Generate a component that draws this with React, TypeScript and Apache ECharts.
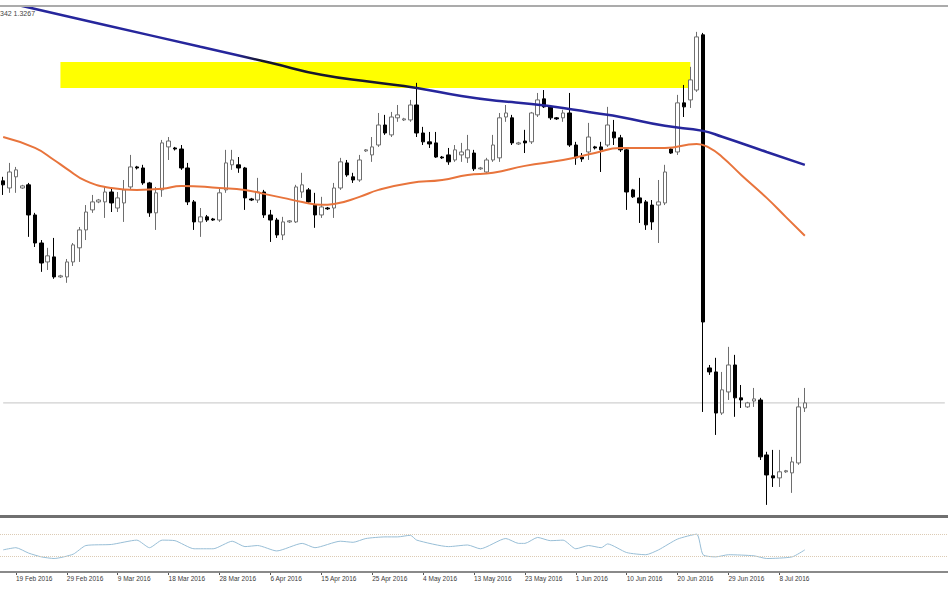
import React, { useEffect, useRef } from "react";
import * as echarts from "echarts";

const dates = [
  "17 Feb 2016","18 Feb 2016","19 Feb 2016","21 Feb 2016","22 Feb 2016","23 Feb 2016","24 Feb 2016","25 Feb 2016","26 Feb 2016","28 Feb 2016","29 Feb 2016",
  "1 Mar 2016","2 Mar 2016","3 Mar 2016","4 Mar 2016","6 Mar 2016","7 Mar 2016","8 Mar 2016","9 Mar 2016","10 Mar 2016","11 Mar 2016","13 Mar 2016","14 Mar 2016","15 Mar 2016","16 Mar 2016","17 Mar 2016","18 Mar 2016","20 Mar 2016","21 Mar 2016","22 Mar 2016","23 Mar 2016","24 Mar 2016","25 Mar 2016","27 Mar 2016","28 Mar 2016","29 Mar 2016","30 Mar 2016","31 Mar 2016",
  "1 Apr 2016","3 Apr 2016","4 Apr 2016","5 Apr 2016","6 Apr 2016","7 Apr 2016","8 Apr 2016","10 Apr 2016","11 Apr 2016","12 Apr 2016","13 Apr 2016","14 Apr 2016","15 Apr 2016","17 Apr 2016","18 Apr 2016","19 Apr 2016","20 Apr 2016","21 Apr 2016","22 Apr 2016","24 Apr 2016","25 Apr 2016","26 Apr 2016","27 Apr 2016","28 Apr 2016","29 Apr 2016",
  "1 May 2016","2 May 2016","3 May 2016","4 May 2016","5 May 2016","6 May 2016","8 May 2016","9 May 2016","10 May 2016","11 May 2016","12 May 2016","13 May 2016","15 May 2016","16 May 2016","17 May 2016","18 May 2016","19 May 2016","20 May 2016","22 May 2016","23 May 2016","24 May 2016","25 May 2016","26 May 2016","27 May 2016","29 May 2016","30 May 2016","31 May 2016",
  "1 Jun 2016","2 Jun 2016","3 Jun 2016","5 Jun 2016","6 Jun 2016","7 Jun 2016","8 Jun 2016","9 Jun 2016","10 Jun 2016","12 Jun 2016","13 Jun 2016","14 Jun 2016","15 Jun 2016","16 Jun 2016","17 Jun 2016","19 Jun 2016","20 Jun 2016","21 Jun 2016","22 Jun 2016","23 Jun 2016","24 Jun 2016","26 Jun 2016","27 Jun 2016","28 Jun 2016","29 Jun 2016","30 Jun 2016",
  "1 Jul 2016","3 Jul 2016","4 Jul 2016","5 Jul 2016","6 Jul 2016","7 Jul 2016","8 Jul 2016","10 Jul 2016","11 Jul 2016","12 Jul 2016","13 Jul 2016",
];

const opens = [
  1.4316,1.4282,1.4335,1.4282,1.4297,1.4154,1.4021,1.3931,1.3955,1.3860,1.3860,
  1.3931,1.3998,1.4083,1.4178,1.4216,1.4216,1.4263,1.4187,1.4211,1.4287,1.4382,1.4377,1.4306,1.4164,1.4273,1.4477,1.4472,1.4467,1.4377,1.4216,1.4121,1.4145,1.4135,1.4130,1.4273,1.4392,1.4392,
  1.4377,1.4230,1.4225,1.4263,1.4154,1.4130,1.4059,1.4121,1.4121,1.4263,1.4273,1.4201,1.4154,1.4187,1.4187,1.4282,1.4401,1.4335,1.4320,1.4458,1.4439,1.4486,1.4581,1.4534,1.4615,
  1.4605,1.4605,1.4676,1.4543,1.4501,1.4496,1.4429,1.4439,1.4415,1.4439,1.4425,1.4448,1.4373,1.4358,1.4415,1.4425,1.4619,1.4615,1.4491,1.4505,1.4501,1.4629,1.4705,1.4667,1.4615,1.4615,1.4638,
  1.4486,1.4429,1.4453,1.4477,1.4477,1.4486,1.4548,1.4520,1.4463,1.4273,1.4235,1.4216,1.4201,1.4201,1.4211,1.4467,1.4453,1.4686,1.4700,1.4747,1.5009,1.3428,1.3409,1.3214,1.3314,1.3442,
  1.3286,1.3243,1.3271,1.3276,1.3015,1.2916,1.2906,1.2935,1.2930,1.2977,1.3238,
];
const closes = [
  1.4297,1.4358,1.4368,1.4292,1.4154,1.4021,1.3926,1.3960,1.3860,1.3865,1.3931,
  1.4012,1.4083,1.4168,1.4216,1.4225,1.4263,1.4211,1.4235,1.4273,1.4382,1.4377,1.4306,1.4164,1.4259,1.4496,1.4505,1.4467,1.4377,1.4216,1.4121,1.4145,1.4130,1.4130,1.4259,1.4401,1.4415,1.4377,
  1.4235,1.4225,1.4263,1.4154,1.4130,1.4059,1.4121,1.4126,1.4287,1.4297,1.4216,1.4154,1.4192,1.4183,1.4282,1.4406,1.4344,1.4320,1.4415,1.4463,1.4477,1.4581,1.4543,1.4619,1.4629,
  1.4610,1.4676,1.4543,1.4501,1.4491,1.4429,1.4425,1.4406,1.4463,1.4453,1.4463,1.4373,1.4377,1.4415,1.4486,1.4615,1.4638,1.4496,1.4496,1.4496,1.4638,1.4700,1.4667,1.4615,1.4610,1.4638,1.4486,
  1.4425,1.4420,1.4524,1.4472,1.4463,1.4581,1.4520,1.4463,1.4263,1.4240,1.4211,1.4107,1.4121,1.4216,1.4358,1.4448,1.4686,1.4667,1.4795,1.4999,1.3646,1.3409,1.3214,1.3324,1.3442,1.3286,
  1.3276,1.3262,1.3281,1.3006,1.2920,1.2906,1.2935,1.2940,1.2982,1.3243,1.3262,
];
const lows = [
  1.4249,1.4259,1.4259,1.4278,1.4050,1.4002,1.3884,1.3893,1.3851,1.3855,1.3832,
  1.3912,1.3931,1.4035,1.4164,1.4210,1.4140,1.4168,1.4168,1.4121,1.4273,1.4370,1.4297,1.4145,1.4083,1.4240,1.4415,1.4460,1.4368,1.4201,1.4083,1.4050,1.4121,1.4126,1.4121,1.4259,1.4368,1.4354,
  1.4178,1.4220,1.4211,1.4140,1.4026,1.4045,1.4035,1.4116,1.4116,1.4235,1.4206,1.4093,1.4140,1.4178,1.4140,1.4273,1.4335,1.4306,1.4311,1.4453,1.4406,1.4477,1.4534,1.4524,1.4596,
  1.4600,1.4596,1.4524,1.4486,1.4472,1.4425,1.4420,1.4392,1.4406,1.4406,1.4401,1.4363,1.4368,1.4354,1.4406,1.4406,1.4596,1.4486,1.4486,1.4448,1.4491,1.4619,1.4662,1.4605,1.4605,1.4596,1.4477,
  1.4392,1.4406,1.4415,1.4465,1.4358,1.4477,1.4486,1.4453,1.4178,1.4235,1.4116,1.4083,1.4083,1.4021,1.4201,1.4444,1.4439,1.4619,1.4662,1.4738,1.3219,1.3395,1.3110,1.3205,1.3276,1.3196,
  1.3238,1.3238,1.3243,1.2991,1.2778,1.2863,1.2863,1.2930,1.2835,1.2968,1.3219,
];
const highs = [
  1.4335,1.4401,1.4382,1.4297,1.4306,1.4164,1.4035,1.3998,1.4045,1.3870,1.3945,
  1.4021,1.4097,1.4201,1.4249,1.4230,1.4287,1.4282,1.4263,1.4320,1.4439,1.4387,1.4392,1.4311,1.4287,1.4510,1.4524,1.4477,1.4486,1.4401,1.4225,1.4187,1.4154,1.4140,1.4282,1.4463,1.4463,1.4429,
  1.4382,1.4235,1.4330,1.4273,1.4178,1.4140,1.4145,1.4130,1.4297,1.4354,1.4282,1.4259,1.4240,1.4192,1.4306,1.4425,1.4415,1.4354,1.4439,1.4467,1.4524,1.4638,1.4629,1.4643,1.4676,
  1.4615,1.4700,1.4781,1.4572,1.4548,1.4548,1.4434,1.4472,1.4486,1.4496,1.4534,1.4463,1.4382,1.4425,1.4534,1.4638,1.4676,1.4629,1.4501,1.4558,1.4643,1.4733,1.4747,1.4676,1.4619,1.4653,1.4733,
  1.4501,1.4448,1.4591,1.4482,1.4501,1.4667,1.4605,1.4534,1.4472,1.4278,1.4330,1.4225,1.4225,1.4320,1.4392,1.4472,1.4724,1.4771,1.4857,1.5023,1.5018,1.3442,1.3476,1.3409,1.3528,1.3490,
  1.3347,1.3267,1.3333,1.3286,1.3030,1.3039,1.3039,1.2944,1.3006,1.3286,1.3333,
];

// readings [bar index, value]
const ma200 = [
  [0,1.5167],[3,1.5146],[16,1.5056],[31,1.4952],[42,1.4876],[50,1.4819],[58,1.4785],[65,1.4757],
  [72,1.4719],[78,1.4695],[83,1.4681],[88,1.4662],[93,1.4638],[97,1.4619],[104,1.4577],[110,1.4553],
  [113,1.4525],[120,1.4453],[126,1.4392],
];
const ma50 = [
  [0,1.4524],[5,1.4472],[8,1.4415],[10,1.4373],[13,1.4316],[17,1.4282],[21,1.4273],[25,1.4278],
  [28,1.4292],[34,1.4282],[38,1.4273],[41,1.4254],[44,1.4235],[47,1.4216],[50,1.4202],[52,1.4206],
  [56,1.4240],[59,1.4273],[64,1.4306],[69,1.4320],[73,1.4344],[77,1.4354],[82,1.4387],[88,1.4415],
  [93,1.4448],[97,1.4472],[99,1.4472],[104,1.4472],[109,1.4491],[111,1.4472],[113,1.4429],[116,1.4344],
  [120,1.4235],[123,1.4145],[126,1.4055],
];
const rsi = [
  [0,41],[2,45],[4,35],[6,28],[8,25],[11,33],[13,49],[17,51],[21,59],[23,45],[25,59],[27,58],
  [30,43],[33,43],[36,57],[38,47],[40,49],[43,39],[47,53],[49,45],[53,57],[55,55],[57,62],[60,65],
  [62,65],[64,68],[65,59],[70,47],[73,50],[75,43],[79,62],[81,53],[82,53],[84,64],[86,58],[88,59],
  [90,43],[92,49],[94,45],[95,52],[98,36],[101,32],[103,41],[106,61],[109,70],[110,32],[112,28],
  [114,32],[118,30],[120,25],[124,28],[126,41],
];
const rsiLevels = [70, 30];
const zoneTop = 1.488;
const zoneBottom = 1.4757;
const zoneFrom = 9;
const zoneTo = 108;
const futureSlots = 22;
const headerText = "342 1.3267";

export default function App() {
  const ref = useRef<HTMLDivElement>(null);
  useEffect(() => {
    const chart = echarts.init(ref.current as HTMLDivElement, null, { renderer: "svg" });
    const cats = dates.concat(Array.from({ length: futureSlots }, (_, i) => "+" + (i + 1)));
    const candles = dates.map((_, i) => [opens[i], closes[i], lows[i], highs[i]]);
    const lastClose = closes[closes.length - 1];
    const showLabel = (i: number) => i % 8 === 2 && i < dates.length;
    const navy = "#26269c";
    const dark = "#16162e";
    const maGrad = new echarts.graphic.LinearGradient(0, 0, 1, 0, [
      { offset: 0, color: navy },
      { offset: 0.29, color: navy },
      { offset: 0.32, color: dark },
      { offset: 0.5, color: dark },
      { offset: 0.53, color: navy },
      { offset: 1, color: navy },
    ]);
    const option: any = {
      animation: false,
      backgroundColor: "#ffffff",
      grid: [
        { left: -2, right: -1, top: 7, height: 508 },
        { left: -2, right: -1, top: 518, height: 54 },
      ],
      xAxis: [
        {
          type: "category", gridIndex: 0, data: cats, boundaryGap: true,
          axisLine: { show: false }, axisTick: { show: false }, axisLabel: { show: false }, splitLine: { show: false },
        },
        {
          type: "category", gridIndex: 1, data: cats, boundaryGap: true,
          axisLine: { show: false },
          axisTick: { show: true, interval: showLabel, alignWithLabel: true, length: 3, lineStyle: { color: "#555555", width: 1 } },
          axisLabel: {
            show: true, interval: showLabel, align: "left", margin: 3,
            fontSize: 6.5, fontFamily: "Liberation Sans", color: "#3a3a3a",
          },
          splitLine: { show: false },
        },
      ],
      yAxis: [
        { type: "value", gridIndex: 0, min: 1.273, max: 1.5141, show: false, splitLine: { show: false } },
        { type: "value", gridIndex: 1, min: 0, max: 100, show: false, splitLine: { show: false } },
      ],
      series: [
        {
          name: "Last", type: "line", xAxisIndex: 0, yAxisIndex: 0,
          data: [[0, lastClose], [cats.length - 1, lastClose]],
          showSymbol: false, z: 1, silent: true,
          lineStyle: { color: "#c4c4c4", width: 1 },
        },
        {
          name: "GBPUSD", type: "candlestick", xAxisIndex: 0, yAxisIndex: 0, data: candles,
          barWidth: 4, z: 2,
          itemStyle: { color: "#ffffff", color0: "#000000", borderColor: "#6e6e6e", borderColor0: "#000000", borderWidth: 1 },
          markArea: {
            silent: true,
            itemStyle: { color: "#ffff00", opacity: 1 },
            data: [[{ xAxis: zoneFrom, yAxis: zoneTop }, { xAxis: zoneTo, yAxis: zoneBottom }]],
          },
        },
        {
          name: "MA200", type: "line", xAxisIndex: 0, yAxisIndex: 0, data: ma200, smooth: true,
          showSymbol: false, z: 3, lineStyle: { width: 2.5, color: maGrad },
        },
        {
          name: "MA50", type: "line", xAxisIndex: 0, yAxisIndex: 0, data: ma50, smooth: true,
          showSymbol: false, z: 3, lineStyle: { width: 2, color: "#e8743c" },
        },
        {
          name: "RSI", type: "line", xAxisIndex: 1, yAxisIndex: 1, data: rsi, smooth: 0.2,
          showSymbol: false, z: 3, lineStyle: { width: 1, color: "#98bed6" },
          markLine: {
            silent: true, symbol: ["none", "none"], label: { show: false },
            lineStyle: { color: "#dccbb4", width: 1, type: "dotted" },
            data: rsiLevels.map((v) => ({ yAxis: v })),
          },
        },
      ],
      graphic: [
        { type: "line", z: 10, shape: { x1: 0, y1: 6, x2: 948, y2: 6 }, style: { stroke: "#ababab", lineWidth: 2 } },
        { type: "line", z: 10, shape: { x1: 0, y1: 516.5, x2: 948, y2: 516.5 }, style: { stroke: "#707070", lineWidth: 3 } },
        { type: "line", z: 10, shape: { x1: 0, y1: 572, x2: 948, y2: 572 }, style: { stroke: "#8a8a8a", lineWidth: 2 } },
        {
          type: "text", z: 10, x: 0, y: 10,
          style: { text: headerText, fontSize: 7, fontFamily: "Liberation Sans", fill: "#444444" },
        },
      ],
    };
    chart.setOption(option);
    return () => chart.dispose();
  }, []);
  return (
    <div
      ref={ref}
      style={{ position: "fixed", left: 0, top: 0, width: 948, height: 593, background: "#ffffff" }}
    />
  );
}
